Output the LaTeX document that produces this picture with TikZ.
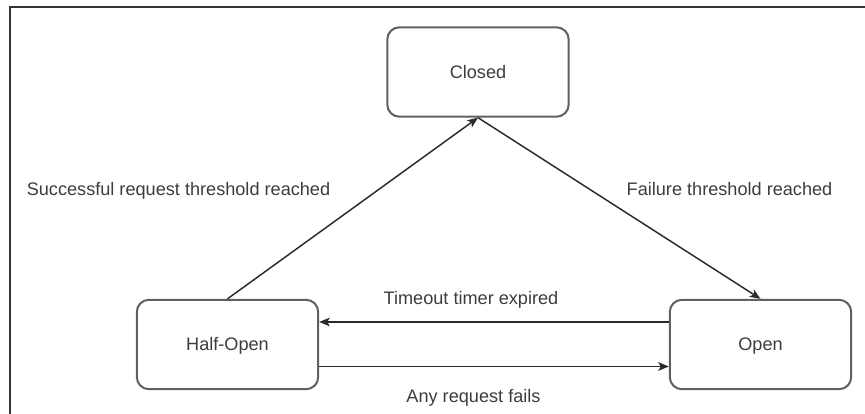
\documentclass[tikz,border=0pt]{standalone}
\usepackage{fontspec}
\setmainfont{Liberation Sans}
\usetikzlibrary{arrows.meta}
\definecolor{txt}{HTML}{3C3C3C}
\definecolor{boxline}{HTML}{606060}
\definecolor{wire}{HTML}{2A2A2A}
\definecolor{framecol}{HTML}{333333}
\begin{document}
\begin{tikzpicture}[x=0.75pt,y=-0.75pt,
  labelfont/.style={font=\fontsize{13.6}{16}\selectfont, text=txt},
  state/.style={draw=boxline, line width=1.5pt, rounded corners=9pt,
    minimum width=136pt, minimum height=67pt, inner sep=0pt,
    labelfont, text height=9.7pt, text depth=0pt},
  lbl/.style={labelfont, inner sep=0pt, anchor=base},
  conn/.style={draw=wire, line width=1.1pt,
    -{Stealth[length=8pt,width=6.5pt,inset=2pt]}},
  framebox/.style={draw=framecol, line width=1.6pt}]
  \useasboundingbox (0,0) rectangle (865,414);
  % outer frame (top and left edges)
  \draw[framebox] (10,414) -- (10,7) -- (865,7);

  % states
  \node[state] (closed) at (478,72) {Closed};
  \node[state] (half) at (227.5,344.5) {Half-Open};
  \node[state] (open) at (760.5,344.5) {Open};

  % transitions
  \draw[conn] (half.north) -- (closed.south);
  \draw[conn] (closed.south) -- (open.north);
  \draw[conn] ([yshift=16.9pt]open.west) -- ([yshift=16.9pt]half.east);
  \draw[conn] ([yshift=-16.5pt]half.east) -- ([yshift=-16.5pt]open.west);

  % transition labels
  \node[lbl] (lsucc) at (178.5,195) {Successful request threshold reached};
  \node[lbl] (lfail) at (729.5,195) {Failure threshold reached};
  \node[lbl] (ltime) at (471,304) {Timeout timer expired};
  \node[lbl] (lany) at (473.5,402) {Any request fails};
\end{tikzpicture}
\end{document}
